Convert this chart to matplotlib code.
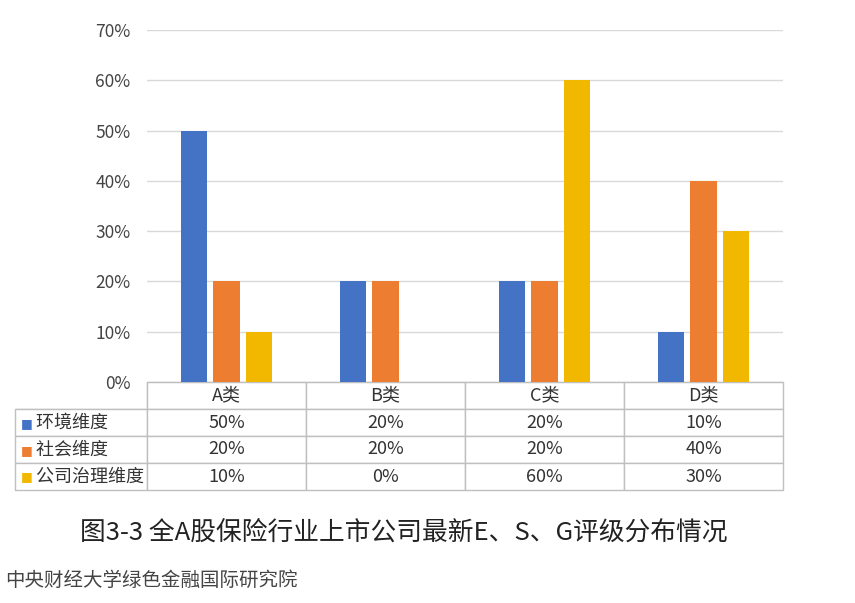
import matplotlib
matplotlib.use("Agg")
import matplotlib.pyplot as plt
import numpy as np

plt.rcParams['font.family'] = ['Noto Sans CJK SC', 'DejaVu Sans']

categories = ['A类', 'B类', 'C类', 'D类']
series = ['环境维度', '社会维度', '公司治理维度']
env = [50, 20, 20, 10]
soc = [20, 20, 20, 40]
gov = [10, 0, 60, 30]
colors = ['#4472C4', '#ED7D31', '#F2B800']
yticks = [0, 10, 20, 30, 40, 50, 60, 70]

fig = plt.figure(figsize=(8.55, 6.03), dpi=100)
ax = fig.add_axes([147/855, 1-382/603, 636/855, 352/603])
x = np.arange(len(categories))
w = 0.165
for i, vals in enumerate([env, soc, gov]):
    ax.bar(x + (i-1)*0.205, vals, w, color=colors[i], zorder=3)
ax.set_xlim(-0.5, 3.5)
ax.set_ylim(0, 70)
ax.set_yticks(yticks)
ax.set_yticklabels([f'{t}%' for t in yticks], fontsize=12.5, color='#444444')
ax.set_xticks([])
ax.yaxis.grid(True, color='#d9d9d9', lw=1, zorder=0)
for s in ['top', 'right', 'left']:
    ax.spines[s].set_visible(False)
ax.spines['bottom'].set_color('#bfbfbf')
ax.tick_params(axis='y', length=0, pad=12)

data = [env, soc, gov]
cell = [[''] + categories] + [[series[i]] + [f'{v}%' for v in data[i]] for i in range(3)]
tb = ax.table(cellText=cell, bbox=[(15-147)/636, -108/352, (783-15)/636, 108/352],
              cellLoc='center')
tb.auto_set_font_size(False)
for (r, c), cl in tb.get_celld().items():
    cl.set_edgecolor('#bfbfbf')
    cl.set_linewidth(1)
    cl.get_text().set_fontsize(13)
    cl.get_text().set_color('#333333')
    cl.get_text().set_va('center')
    if c == 0:
        cl.set_width(132/636)
        if r > 0:
            cl.get_text().set_ha('left')
            cl.get_text().set_text('  ' + series[r-1])
    else:
        cl.set_width(159/636)
    if r == 0 and c == 0:
        cl.visible_edges = 'BR'
for i in range(3):
    fig.text(27/855, 1-(424+26.5*i)/603, '■', color=colors[i], fontsize=9,
             ha='center', va='center', family='DejaVu Sans')

fig.text(404/855, 1-533/603, '图3-3 全A股保险行业上市公司最新E、S、G评级分布情况',
         fontsize=18.5, ha='center', va='center', color='#222222')
fig.text(5/855, 1-580/603, '中央财经大学绿色金融国际研究院', fontsize=14,
         ha='left', va='center', color='#444444')
fig.savefig('out.png', dpi=100)
